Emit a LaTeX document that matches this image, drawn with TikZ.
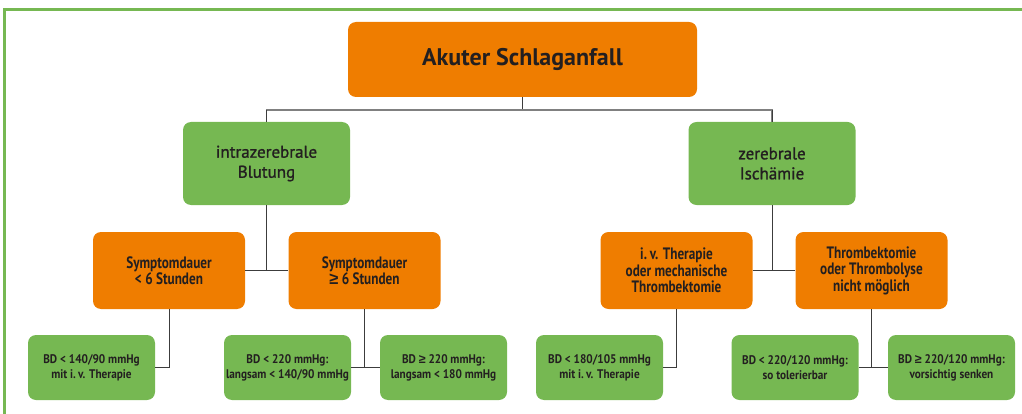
\documentclass[tikz,border=0pt]{standalone}
\usepackage{fontspec}
\setmainfont{PT Sans}
\newfontfamily\condfont[FakeStretch=0.8]{PT Sans}
\newfontfamily\smallcondfont[FakeStretch=0.9]{PT Sans}
\newfontfamily\midfont[FakeBold=1.2]{PT Sans}
\newfontfamily\signfont{Liberation Sans}
\usetikzlibrary{positioning}
\definecolor{boxorange}{RGB}{239,125,0}
\definecolor{boxgreen}{RGB}{118,184,82}
\definecolor{inktext}{RGB}{35,31,32}
\definecolor{linegray}{RGB}{60,60,60}
\newcommand{\gesign}{{\signfont\bfseries ≥}}
\tikzset{%
    box/.style={%
        rounded corners=8pt, align=center, text=inktext, inner sep=0pt
    },
    topbox/.style={box, fill=boxorange, minimum width=349pt, minimum height=75pt,
        font=\fontsize{24}{28}\selectfont\bfseries},
    mainbox/.style={box, fill=boxgreen, minimum width=167pt, minimum height=83pt,
        font=\fontsize{17}{20}\selectfont\midfont},
    casebox/.style={box, fill=boxorange, minimum width=152pt, minimum height=77pt,
        font=\fontsize{16.5}{16.5}\selectfont\bfseries\condfont},
    bpbox/.style={box, fill=boxgreen, minimum width=127pt, minimum height=65pt,
        font=\fontsize{12.5}{15}\selectfont\bfseries\smallcondfont},
    link/.style={draw=linegray, line width=0.9pt},
    bus/.style={draw=gray, line width=1.6pt}
}

\begin{document}
\begin{tikzpicture}[x=1pt, y=-1pt]
    \useasboundingbox (0,0) rectangle (1022,414);
    % frame
    \draw[boxgreen, line width=3pt] (4,414) -- (4,9.5) -- (1022,9.5);

    % top
    \node[topbox] (top) at (522.5,59.5) {Akuter Schlaganfall};

    % first level
    \node[mainbox] (blutung) at (266.5,163.5) {intrazerebrale\\Blutung};
    \node[mainbox] (ischaemie) at (772,163.5) {zerebrale\\Ischämie};

    % second level
    \node[casebox] (kurz) at (169,270.5) {Symptomdauer\\< 6 Stunden};
    \node[casebox] (lang) at (364.5,270.5) {Symptomdauer\\\gesign{} 6 Stunden};
    \node[casebox] (ivt) at (676.5,270.5) {i.\,v. Therapie\\oder mechanische\\Thrombektomie};
    \node[casebox] (keinethr) at (871.5,270.5) {Thrombektomie\\oder Thrombolyse\\nicht möglich};

    % blood pressure targets
    \node[bpbox] (bpkurz) at (91.5,367.5) {BD < 140/90 mmHg\\mit i.\,v. Therapie};
    \node[bpbox] (bplangA) at (287.5,367.5) {BD < 220 mmHg:\\langsam < 140/90 mmHg};
    \node[bpbox] (bplangB) at (443.5,367.5) {BD \gesign{} 220 mmHg:\\langsam < 180 mmHg};
    \node[bpbox] (bpivt) at (599.5,367.5) {BD < 180/105 mmHg\\mit i.\,v. Therapie};
    \node[bpbox] (bpkeinA) at (795,367.5) {BD < 220/120 mmHg:\\so tolerierbar};
    \node[bpbox] (bpkeinB) at (951.5,367.5) {BD \gesign{} 220/120 mmHg:\\vorsichtig senken};

    % connectors
    \draw[link] (top.south) -- ++(0,13.5);
    \draw[bus] (blutung.north) -- ++(0,-12) -| (ischaemie.north);
    \draw[link] (blutung.north) -- ++(0,-12);
    \draw[link] (ischaemie.north) -- ++(0,-12);

    \draw[link] (blutung.south) -- (blutung.south |- kurz.east);
    \draw[link] (kurz.east) -- (lang.west);
    \draw[link] (ischaemie.south) -- (ischaemie.south |- ivt.east);
    \draw[link] (ivt.east) -- (keinethr.west);

    \draw[link] (kurz.south) |- (bpkurz.east);
    \draw[link] (lang.south) -- (lang.south |- bplangA.east);
    \draw[link] (bplangA.east) -- (bplangB.west);
    \draw[link] (ivt.south) |- (bpivt.east);
    \draw[link] (keinethr.south) -- (keinethr.south |- bpkeinA.east);
    \draw[link] (bpkeinA.east) -- (bpkeinB.west);
\end{tikzpicture}
\end{document}
